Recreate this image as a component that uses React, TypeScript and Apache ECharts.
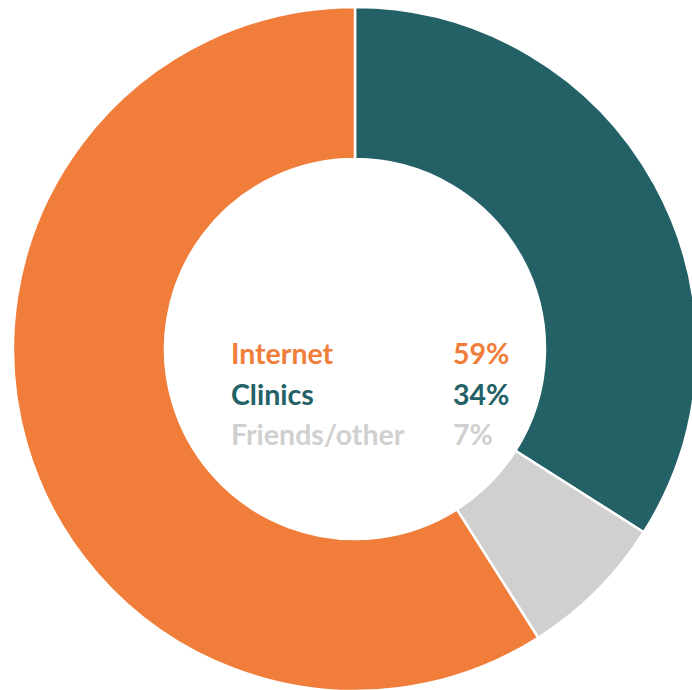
import React, { useEffect, useRef } from "react";
import * as echarts from "echarts";

const categories = ["Clinics", "Friends/other", "Internet"];
const values = [34, 7, 59];
const colors = ["#236167", "#D0D0D0", "#F07E3A"];
const legendOrder = ["Internet", "Clinics", "Friends/other"];

export default function App() {
  const ref = useRef<HTMLDivElement>(null);
  useEffect(() => {
    document.body.style.margin = "0";
    const chart = echarts.init(ref.current!, null, { renderer: "svg" });
    const font = "Lato, sans-serif";
    const texts: any[] = [];
    legendOrder.forEach((name, i) => {
      const idx = categories.indexOf(name);
      const y = 353 + i * 40.5;
      texts.push({
        type: "text",
        x: 231,
        y: y,
        style: { text: name, fill: colors[idx], font: `bold 28.5px ${font}`, verticalAlign: "middle" },
      });
      texts.push({
        type: "text",
        x: 453,
        y: y,
        style: { text: values[idx] + "%", fill: colors[idx], font: `bold 28.5px ${font}`, verticalAlign: "middle" },
      });
    });
    chart.setOption({
      animation: false,
      series: [
        {
          type: "pie",
          center: [355, 349],
          radius: [190, 342],
          startAngle: 90,
          clockwise: true,
          label: { show: false },
          labelLine: { show: false },
          itemStyle: { borderColor: "#fff", borderWidth: 2.5 },
          data: categories.map((c, i) => ({ name: c, value: values[i], itemStyle: { color: colors[i] } })),
        },
      ],
      graphic: texts,
    });
    return () => chart.dispose();
  }, []);
  return <div ref={ref} style={{ width: 692, height: 690 }} />;
}
